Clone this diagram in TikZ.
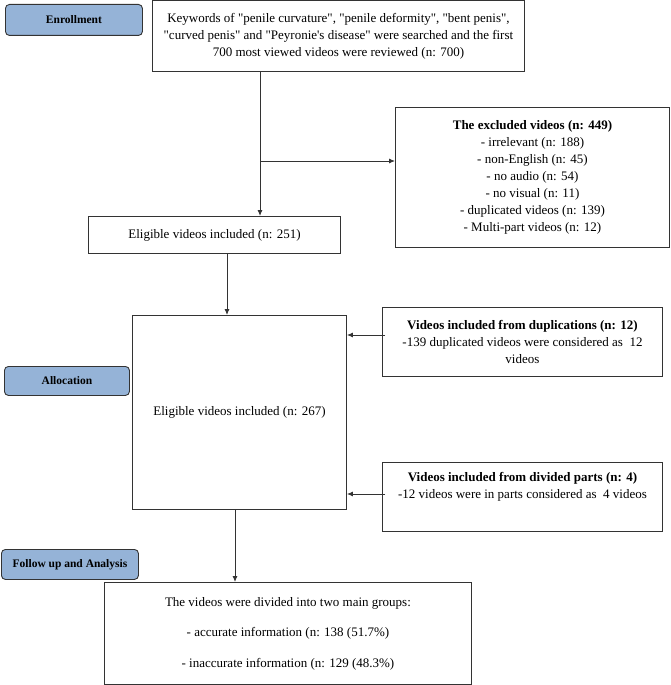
\documentclass[tikz,border=0pt]{standalone}
\usepackage{fontspec}
\setmainfont{Liberation Serif}[Ligatures=TeXOff]
\usetikzlibrary{arrows.meta}
\definecolor{lblblue}{HTML}{95B3D7}
\definecolor{edgecol}{HTML}{333333}
\begin{document}
\begin{tikzpicture}[x=1pt,y=-1pt,
  box/.style={draw=edgecol, line width=0.9pt, fill=white, anchor=north west, inner sep=0pt, align=center, font=\fontsize{13}{17}\selectfont},
  lbl/.style={draw=edgecol, line width=0.9pt, fill=lblblue, rounded corners=4pt, anchor=north west, inner sep=0pt, font=\fontsize{11.5}{14}\selectfont\bfseries},
  conn/.style={draw=edgecol, line width=0.9pt},
  arr/.style={conn, -{Latex[length=6pt,width=5pt]}}]
\useasboundingbox (0,0) rectangle (671,685);

% stage labels
\node[lbl, minimum width=137pt, minimum height=31pt] (enr) at (5,4) {Enrollment};
\node[lbl, minimum width=125pt, minimum height=29pt] (alloc) at (4,366) {Allocation};
\node[lbl, minimum width=137pt, minimum height=30pt] (fup) at (1,549) {Follow up and Analysis};

% boxes
\node[box, minimum width=372pt, minimum height=70.5pt] (kw) at (152,0.5)
  {Keywords of "penile curvature", "penile deformity", "bent penis",\\
   "curved penis" and "Peyronie's disease" were searched and the first\\
   700 most viewed videos were reviewed (n: 700)};
\node[box, minimum width=274pt, minimum height=140pt] (excl) at (395,107)
  {\textbf{The excluded videos (n: 449)}\\
   - irrelevant (n: 188)\\
   - non-English (n: 45)\\
   - no audio (n: 54)\\
   - no visual (n: 11)\\
   - duplicated videos (n: 139)\\
   - Multi-part videos (n: 12)};
\node[box, minimum width=252pt, minimum height=37pt] (e251) at (88,216)
  {Eligible videos included (n: 251)};
\node[box, minimum width=214pt, minimum height=194pt] (e267) at (132,315)
  {Eligible videos included (n: 267)};
\node[box, minimum width=280pt, minimum height=69pt] (dup) at (382,307)
  {\textbf{Videos included from duplications (n: 12)}\\
   -139 duplicated videos were considered as~ 12\\
   videos};
\node[box, minimum width=280pt, minimum height=69pt] (div) at (382,462)
  {\textbf{Videos included from divided parts (n: 4)}\\
   -12 videos were in parts considered as~ 4 videos\\
   \strut};
\node[box, minimum width=367pt, minimum height=102pt] (res) at (104,582)
  {The videos were divided into two main groups:\\[13.5pt]
   - accurate information (n: 138 (51.7\%)\\[13.5pt]
   - inaccurate information (n: 129 (48.3\%)};

% connectors
\coordinate (j1) at (260,161);
\coordinate (c2) at (227,0);
\coordinate (c3) at (235,0);
\coordinate (h1) at (0,335);
\coordinate (h2) at (0,494);
\draw[arr] (kw.south -| j1) -- (e251.north -| j1);
\draw[arr] (j1) -- (excl.west |- j1);
\draw[arr] (e251.south -| c2) -- (e267.north -| c2);
\draw[arr] ([xshift=3pt]dup.west |- h1) -- (e267.east |- h1);
\draw[arr] ([xshift=3pt]div.west |- h2) -- (e267.east |- h2);
\draw[arr] (e267.south -| c3) -- (res.north -| c3);
\end{tikzpicture}
\end{document}
